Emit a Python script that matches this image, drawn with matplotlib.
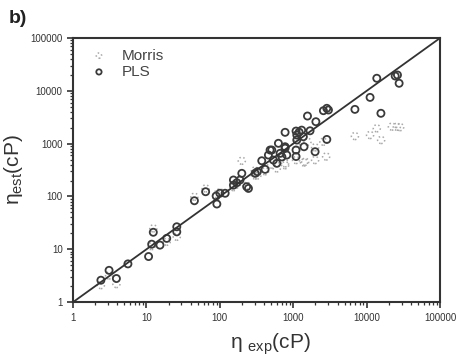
import numpy as np
import matplotlib
matplotlib.use("Agg")
import matplotlib.pyplot as plt

plt.rcParams['font.family'] = ['Liberation Sans', 'DejaVu Sans']
plt.rcParams['mathtext.fontset'] = 'custom'
plt.rcParams['mathtext.rm'] = 'Liberation Sans'
plt.rcParams['mathtext.it'] = 'Liberation Sans'

pls_exp = [2.4, 3.1, 3.9, 5.6, 10.7, 11.8, 12.4, 15.3, 18.9, 25.9, 25.9, 45, 64, 91, 89, 100, 118,
           153, 153, 170, 199, 188, 232, 245, 302, 324, 372, 413, 458, 509, 536, 596, 627, 661, 700,
           773, 773, 815, 483,
           1090, 1116, 1116, 1200, 1300, 1690, 1370, 2860, 1090, 1400, 1980, 1090, 773, 1560, 2030,
           2570, 2860, 3010, 6900, 11100, 13700, 15600, 24400, 26200, 27600]
pls_est = [2.6, 4.0, 2.8, 5.3, 7.3, 12.5, 21, 12, 16.1, 26.7, 21.4, 83, 123, 72, 102, 115, 115,
           164, 205, 182, 274, 205, 153, 142, 274, 294, 474, 326, 608, 757, 489, 424, 1014, 655, 560,
           873, 1637, 608, 757,
           1730, 1455, 1170, 1650, 1800, 1750, 1350, 1200, 757, 873, 703, 570, 820, 3330, 2600,
           4200, 4660, 4330, 4450, 7500, 17260, 3750, 19050, 19900, 13870]

morris_exp = [2.4, 3.1, 3.9, 11.8, 12.4, 18.9, 25.9, 45, 64, 91, 100,
              199, 153, 170, 232, 300, 324, 300, 413, 500, 596, 661, 773, 773,
              1090, 1090, 1400, 1450, 1560, 1980, 1980, 2570, 2800, 6900, 11100, 13700, 15700,
              22000, 25700, 28500]
morris_est = [2.1, 3.2, 2.2, 11.5, 24.9, 13.9, 17.3, 99, 142, 110, 120,
              474, 150, 170, 160, 250, 250, 310, 300, 400, 340, 500, 390, 424,
              489, 1000, 440, 454, 1087, 850, 489, 1087, 570, 1390, 1455, 1950, 1170,
              2100, 2090, 2050]

lim = [1, 100000]

fig = plt.figure(figsize=(4.59, 3.58), dpi=100)
ax = fig.add_axes([0.159, 0.156, 0.8, 0.738])

ax.scatter(morris_exp, morris_est, s=26, facecolors='none', edgecolors='#a8a8a8',
           linewidths=1.1, linestyle=':', label='Morris', zorder=2)
ax.scatter(pls_exp, pls_est, s=26, facecolors='none', edgecolors='#3a3a3a',
           linewidths=1.3, label='PLS', zorder=3)
ax.plot(lim, lim, color='#333333', lw=1.3, zorder=4)

ax.set_xscale('log')
ax.set_yscale('log')
ax.set_xlim(lim)
ax.set_ylim(lim)
ticks = [1, 10, 100, 1000, 10000, 100000]
ax.set_xticks(ticks)
ax.set_xticklabels([str(t) for t in ticks])
ax.set_yticks(ticks)
ax.set_yticklabels([str(t) for t in ticks])

for s in ax.spines.values():
    s.set_linewidth(1.5)
    s.set_color('#333333')
ax.tick_params(which='major', direction='out', length=4, width=1.2, labelsize=7,
               colors='#333333')
ax.tick_params(which='minor', direction='out', length=2.5, width=0.9, colors='#333333')

ax.set_ylabel(r'η$_{\rm est}$(cP)', fontsize=15, color='#333333', labelpad=4)
fig.text(0.59, 0.025, r'η $_{\rm exp}$(cP)', fontsize=15, color='#333333', ha='center')
fig.text(0.02, 0.935, 'b)', fontsize=14, fontweight='bold', color='#222222')

leg = ax.legend(loc='upper left', frameon=False, fontsize=11, handletextpad=0.5,
                borderaxespad=0.2, labelspacing=0.15, labelcolor='#444444',
                markerscale=0.75, borderpad=0.5)

fig.savefig('out.png', dpi=100)
